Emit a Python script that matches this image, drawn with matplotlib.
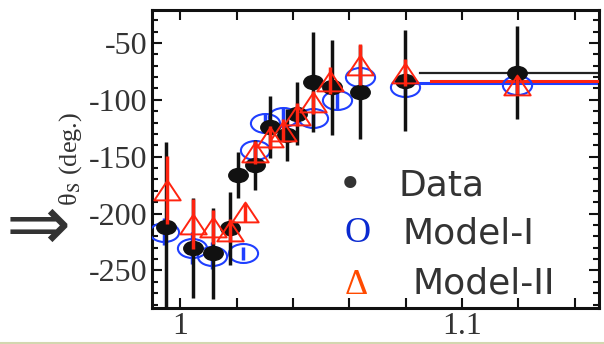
import numpy as np
import matplotlib
matplotlib.use('Agg')
import matplotlib.pyplot as plt
from matplotlib.path import Path
from matplotlib.transforms import Affine2D
from matplotlib.ticker import MultipleLocator, FuncFormatter

plt.rcParams['mathtext.fontset'] = 'stix'
plt.rcParams['axes.unicode_minus'] = False

# data points (energy, theta_S, error)
data_x = [0.995, 1.0046, 1.0117, 1.0177, 1.0204, 1.0266, 1.0319, 1.038, 1.0415, 1.047, 1.054, 1.0638, 1.0798, 1.1195]
data_y = [-212, -230, -235, -213, -166, -157, -124, -131, -112, -84, -89, -93, -83, -76]
data_err = [75, 44, 40, 32, 20, 22, 27, 23, 28, 44, 42, 41, 44, 41]

# Model-I
m1_x = [0.9943, 1.0043, 1.0113, 1.0223, 1.0266, 1.030, 1.0365, 1.047, 1.0557, 1.0638, 1.0798, 1.1195]
m1_y = [-216, -230, -237, -235, -144, -120, -115, -116, -100, -80, -89, -87]
m1_err = [12, 14, 12, 6, 8, 8, 8, 8, 8, 10, 8, 8]

# Model-II
m2_x = [0.9954, 1.0046, 1.0117, 1.0177, 1.023, 1.0266, 1.0319, 1.0365, 1.0415, 1.047, 1.053, 1.0638, 1.0798, 1.1195]
m2_y = [-179, -209, -212, -215, -199, -146, -133, -127, -113, -102, -83, -69, -76, -87]
m2_err = [30, 22, 15, 10, 8, 10, 10, 10, 10, 10, 12, 18, 12, 8]

# flat lines at high energy
line_x_data = [1.085, 1.15]
line_y_data = [-76, -76]
line_x_m1 = [1.083, 1.15]
line_y_m1 = [-85, -85]
line_x_m2 = [1.089, 1.15]
line_y_m2 = [-83, -83]

# marker shapes
ellipse = Path.unit_circle().transformed(Affine2D().scale(1.0, 0.72))
ellipse_big = Path.unit_circle().transformed(Affine2D().scale(1.0, 0.65))
tri = Path([(0, 0.75), (-1, -0.75), (1, -0.75), (0, 0.75)],
           [Path.MOVETO, Path.LINETO, Path.LINETO, Path.CLOSEPOLY])

fig = plt.figure(figsize=(6.04, 3.44), dpi=100)
ax = fig.add_axes([0.2517, 0.1047, 0.74, 0.8662])

blue = '#1f3fff'
red = '#ff2410'

ax.plot(line_x_data, line_y_data, color='#222222', lw=1.6, zorder=2)
ax.plot(line_x_m1, line_y_m1, color=blue, lw=2.2, zorder=2)
ax.plot(line_x_m2, line_y_m2, color=red, lw=2.2, zorder=3)

ax.errorbar(m1_x, m1_y, yerr=m1_err, fmt='none', ecolor=blue, elinewidth=2.5, zorder=3)
ax.plot(m1_x, m1_y, ls='none', marker=ellipse_big, ms=21, mfc='none', mec=blue, mew=1.5, zorder=3)

ax.errorbar(data_x, data_y, yerr=data_err, fmt='none', ecolor='#111111', elinewidth=2.5, zorder=4)
ax.plot(data_x, data_y, ls='none', marker=ellipse, ms=14, mfc='#111111', mec='#111111', zorder=4)

ax.errorbar(m2_x, m2_y, yerr=m2_err, fmt='none', ecolor=red, elinewidth=2.5, zorder=5)
ax.plot(m2_x, m2_y, ls='none', marker=tri, ms=19, mfc='none', mec=red, mew=1.4, zorder=5)

ax.set_xlim(0.990, 1.1486)
ax.set_ylim(-283, -21)

ax.xaxis.set_major_locator(MultipleLocator(0.02))
ax.xaxis.set_major_formatter(FuncFormatter(
    lambda v, p: '1' if abs(v - 1.0) < 1e-6 else ('1.1' if abs(v - 1.1) < 1e-6 else '')))
ax.yaxis.set_major_locator(MultipleLocator(50))
ax.yaxis.set_minor_locator(MultipleLocator(10))
ax.tick_params(axis='both', which='both', direction='in', top=True, right=True,
               colors='#111111', labelcolor='#333333', width=1.5)
ax.tick_params(axis='both', which='major', length=7, labelsize=23, pad=3)
ax.tick_params(axis='y', which='minor', length=4)
for lab in ax.get_xticklabels() + ax.get_yticklabels():
    lab.set_fontfamily('Liberation Serif')
for s in ax.spines.values():
    s.set_linewidth(2.2)
    s.set_color('#111111')

ax.set_ylabel('\u03b8$_{\\mathrm{S}}$ (deg.)', fontsize=19, family='Liberation Serif',
              color='#333333', labelpad=4)

# legend built from text
fig.text(350 / 604, 1 - 186 / 344, '\u2022', fontsize=30, color='#333333', ha='center', va='center')
fig.text(358 / 604, 1 - 234 / 344, 'O', fontsize=26, color='#0a2ad0', ha='center', va='center',
         family='Liberation Serif')
fig.text(356 / 604, 1 - 285 / 344, '\u0394', fontsize=26, color='#ff4a00', ha='center', va='center',
         family='Liberation Serif')
fig.text(398 / 604, 1 - 186 / 344, 'Data', fontsize=26, color='#333333', ha='left', va='center')
fig.text(402 / 604, 1 - 234 / 344, 'Model-I', fontsize=26, color='#333333', ha='left', va='center')
fig.text(412 / 604, 1 - 283 / 344, 'Model-II', fontsize=26, color='#333333', ha='left', va='center')

# arrow pointing at the -200 region
fig.text(38 / 604, 1 - 228 / 344, '\u21d2', fontsize=56, color='#333333', ha='center', va='center')

# thin band at the bottom
fig.add_artist(plt.Line2D([0, 1], [1.5 / 344, 1.5 / 344], transform=fig.transFigure,
                          color='#d3d7b0', lw=2.2))

fig.savefig('out.png', dpi=100)
